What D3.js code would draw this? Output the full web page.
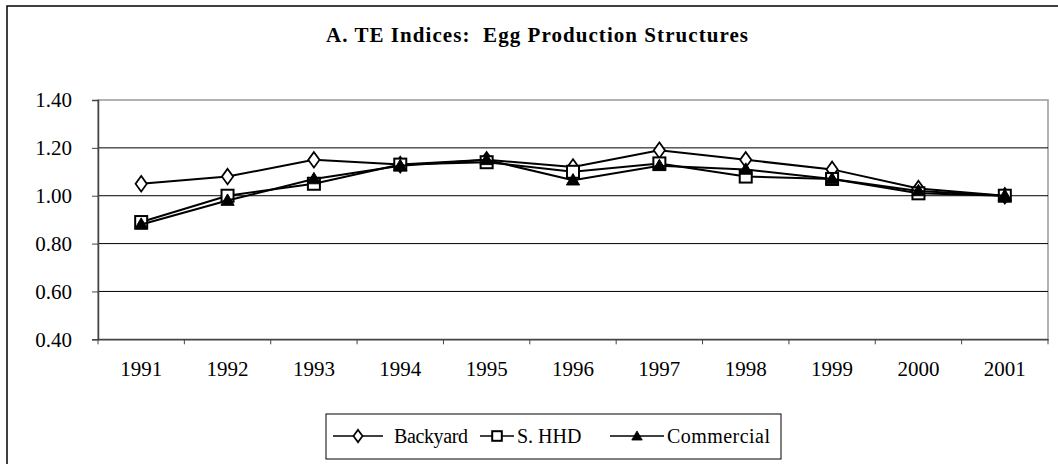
<!DOCTYPE html>
<html>
<head>
<meta charset="utf-8">
<script src="https://d3js.org/d3.v7.min.js"></script>
<style>
  body { margin: 0; background: #fff; }
  svg text { font-family: "Liberation Serif", "Times New Roman", "DejaVu Serif", serif; fill: #000; }
</style>
</head>
<body>
<div id="chart"></div>
<script>
// data
var years = ["1991", "1992", "1993", "1994", "1995", "1996", "1997", "1998", "1999", "2000", "2001"];
var backyard   = [1.05, 1.08, 1.15, 1.13, 1.15, 1.12, 1.19, 1.15, 1.11, 1.03, 1.00];
var sHHD       = [0.89, 1.00, 1.05, 1.13, 1.14, 1.10, 1.135, 1.08, 1.07, 1.01, 1.00];
var commercial = [0.88, 0.98, 1.07, 1.125, 1.15, 1.065, 1.125, 1.11, 1.07, 1.02, 1.00];
var yTicks = [0.40, 0.60, 0.80, 1.00, 1.20, 1.40];
var seriesNames = ["Backyard", "S. HHD", "Commercial"];

var W = 1058, H = 464;
var plot = {left: 98, right: 1048, top: 100, bottom: 339.3};
var serif = "'Liberation Serif', 'Times New Roman', serif";

var svg = d3.select("#chart").append("svg")
    .attr("width", W)
    .attr("height", H);

// outer chart frame (runs off right/bottom edges)
svg.append("rect")
    .attr("x", 7).attr("y", 6)
    .attr("width", W + 10).attr("height", H + 10)
    .attr("fill", "#fff")
    .attr("stroke", "#000")
    .attr("stroke-width", 1.5);

// title
svg.append("text")
    .attr("x", 326)
    .attr("y", 42)
    .attr("textLength", 422)
    .attr("lengthAdjust", "spacing")
    .style("white-space", "pre")
    .style("font-family", serif)
    .style("font-size", "21px")
    .style("font-weight", "bold")
    .text("A. TE Indices:  Egg Production Structures");

var x = d3.scaleBand()
    .domain(years)
    .range([plot.left, plot.right]);

var y = d3.scaleLinear()
    .domain([0.4, 1.4])
    .range([plot.bottom, plot.top]);

// plot area border (grey top/right)
svg.append("rect")
    .attr("x", plot.left).attr("y", plot.top)
    .attr("width", plot.right - plot.left)
    .attr("height", plot.bottom - plot.top)
    .attr("fill", "none")
    .attr("stroke", "#999")
    .attr("stroke-width", 1.5);

// gridlines
svg.append("g")
  .selectAll("line")
  .data(yTicks.filter(function(d){ return d > 0.41 && d < 1.39; }))
  .enter().append("line")
    .attr("x1", plot.left).attr("x2", plot.right)
    .attr("y1", function(d){ return y(d); })
    .attr("y2", function(d){ return y(d); })
    .attr("stroke", "#000")
    .attr("stroke-width", 1);

// Y axis
var yAxis = svg.append("g")
    .attr("transform", "translate(" + plot.left + ",0)")
    .call(d3.axisLeft(y)
        .tickValues(yTicks)
        .tickFormat(d3.format(".2f"))
        .tickSize(6)
        .tickPadding(20));
yAxis.attr("font-family", null);
yAxis.select(".domain").attr("stroke", "#444").attr("stroke-width", 1.5);
yAxis.selectAll(".tick line").attr("stroke", "#444");
yAxis.selectAll(".tick text")
    .style("font-size", "21px")
    .style("font-family", serif);

// X axis: labels at band centres, ticks at band edges
var xAxis = svg.append("g")
    .attr("transform", "translate(0," + plot.bottom + ")")
    .call(d3.axisBottom(x).tickSize(0).tickPadding(22));
xAxis.attr("font-family", null);
xAxis.select(".domain").attr("stroke", "#444").attr("stroke-width", 1.5);
xAxis.selectAll(".tick text")
    .style("font-size", "21px")
    .style("font-family", serif);
xAxis.selectAll(".edge")
  .data(years.concat(["end"]))
  .enter().append("line")
    .attr("x1", function(d, i){ return plot.left + i * x.bandwidth(); })
    .attr("x2", function(d, i){ return plot.left + i * x.bandwidth(); })
    .attr("y1", 0).attr("y2", 5)
    .attr("stroke", "#444");

// series
var lineGen = d3.line()
    .x(function(d, i){ return x(years[i]) + x.bandwidth() / 2; })
    .y(function(d){ return y(d); });

var diamond = d3.symbol().type(d3.symbolDiamond).size(70);
var triangle = d3.symbol().type(d3.symbolTriangle).size(75);

function drawMarker(g, kind, cx, cy, s) {
  s = s || 1;
  if (kind === 0) {
    g.append("path").attr("d", diamond())
      .attr("transform", "translate(" + cx + "," + cy + ") scale(" + (1.25 * s) + "," + s + ")")
      .attr("fill", "#fff").attr("stroke", "#000").attr("stroke-width", 1.5 / s);
  } else if (kind === 1) {
    g.append("rect")
      .attr("x", cx - 6 * s).attr("y", cy - 6 * s)
      .attr("width", 12 * s).attr("height", 12 * s)
      .attr("fill", "#fff").attr("stroke", "#000").attr("stroke-width", 2);
  } else {
    g.append("path").attr("d", triangle())
      .attr("transform", "translate(" + cx + "," + (cy + 1) + ") scale(" + s + ")")
      .attr("fill", "#000").attr("stroke", "#000").attr("stroke-width", 1);
  }
}

[backyard, sHHD, commercial].forEach(function(vals, k) {
  var g = svg.append("g");
  g.append("path")
    .datum(vals)
    .attr("d", lineGen)
    .attr("fill", "none")
    .attr("stroke", "#000")
    .attr("stroke-width", 2);
  vals.forEach(function(v, i) {
    drawMarker(g, k, x(years[i]) + x.bandwidth() / 2, y(v));
  });
});

// legend
var legend = svg.append("g");
legend.append("rect")
    .attr("x", 326).attr("y", 414)
    .attr("width", 455).attr("height", 45)
    .attr("fill", "#fff")
    .attr("stroke", "#000")
    .attr("stroke-width", 1);

var legendItems = [
  {x0: 333, x1: 383, text: 394, len: 74},
  {x0: 480, x1: 514, text: 517, len: null},
  {x0: 610, x1: 664, text: 667, len: 103}
];
legendItems.forEach(function(it, k) {
  var ly = 436;
  legend.append("line")
    .attr("x1", it.x0).attr("x2", it.x1)
    .attr("y1", ly).attr("y2", ly)
    .attr("stroke", "#000").attr("stroke-width", 1.5);
  drawMarker(legend, k, (it.x0 + it.x1) / 2, ly, 0.8);
  var t = legend.append("text")
    .attr("x", it.text)
    .attr("y", ly + 7)
    .style("font-family", serif)
    .style("font-size", "20px")
    .text(seriesNames[k]);
  if (it.len) t.attr("textLength", it.len).attr("lengthAdjust", "spacing");
});
</script>
</body>
</html>
